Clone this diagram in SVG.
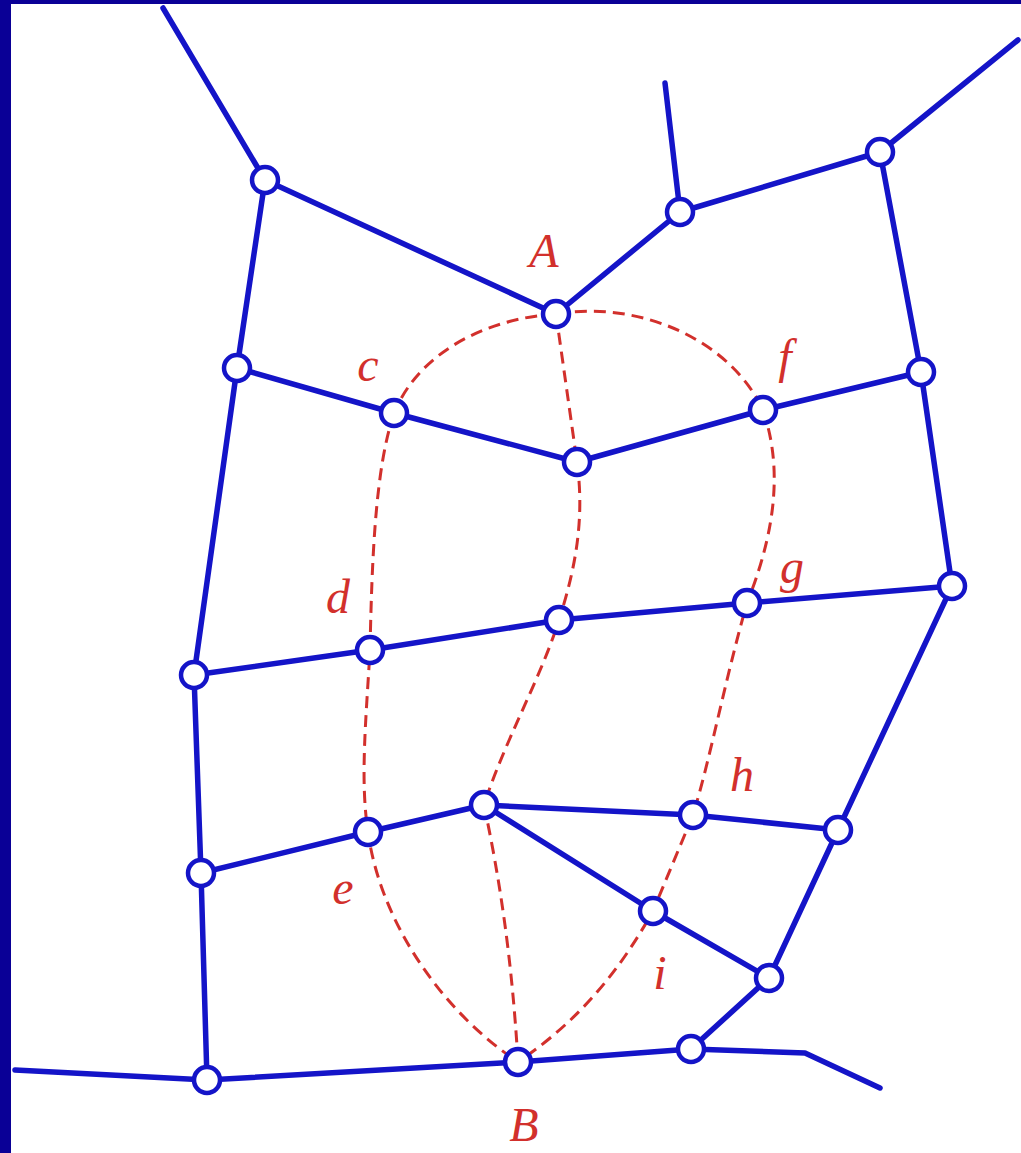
<svg xmlns="http://www.w3.org/2000/svg" width="1021" height="1153" viewBox="0 0 1021 1153">
<style>
.e{stroke:#1414c8;stroke-width:5.5;fill:none;stroke-linecap:round;stroke-linejoin:round}
.r{stroke:#d2302c;stroke-width:3;fill:none;stroke-dasharray:12 7}
.n{fill:#fff;stroke:#1414c8;stroke-width:4.5}
.t{fill:#d2302c;font-family:"Liberation Serif",serif;font-style:italic;font-size:48px;text-anchor:middle}
</style>
<rect x="0" y="0" width="1021" height="1153" fill="#fff"/>
<rect x="0" y="0" width="1021" height="4" fill="#0a0096"/>
<rect x="0" y="0" width="11" height="1153" fill="#0a0096"/>
<g id="dashed">
<path class="r" d="M556,314 C640,300 730,340 763,410"/>
<path class="r" d="M556,314 C490,318 420,350 394,413"/>
<path class="r" d="M394,413 C375,470 372,560 370,650 C366,720 360,780 368,832 C380,920 440,1010 518,1062"/>
<path class="r" d="M556,314 L577,462"/>
<path class="r" d="M577,462 C585,520 575,570 559,620 C540,680 505,740 484,805"/>
<path class="r" d="M484,805 C500,880 512,960 518,1062"/>
<path class="r" d="M763,410 C780,460 780,520 747,603 C725,680 710,760 693,815 L653,911 C620,970 580,1020 518,1062"/>
</g>
<g id="connectors">
<polyline class="e" points="163,8 265,180 556,314 680,212 665,83"/>
<polyline class="e" points="680,212 880,152 1018,40"/>
<polyline class="e" points="265,180 237,368 194,675 201,873 207,1080"/>
<polyline class="e" points="15,1070 207,1080 518,1062 691,1049 805,1053 880,1088"/>
<polyline class="e" points="880,152 921,372 952,586 838,830 769,978 691,1049"/>
<polyline class="e" points="237,368 394,413 577,462 763,410 921,372"/>
<polyline class="e" points="194,675 370,650 559,620 747,603 952,586"/>
<polyline class="e" points="201,873 368,832 484,805 693,815 838,830"/>
<polyline class="e" points="484,805 653,911 769,978"/>
</g>
<g id="nodes">
<circle id="n1" class="n" cx="265" cy="180" r="13"/>
<circle id="n2" class="n" cx="680" cy="212" r="13"/>
<circle id="n3" class="n" cx="880" cy="152" r="13"/>
<circle id="nA" class="n" cx="556" cy="314" r="13"/>
<circle id="n4" class="n" cx="237" cy="368" r="13"/>
<circle id="nc" class="n" cx="394" cy="413" r="13"/>
<circle id="n5" class="n" cx="577" cy="462" r="13"/>
<circle id="nf" class="n" cx="763" cy="410" r="13"/>
<circle id="n6" class="n" cx="921" cy="372" r="13"/>
<circle id="n7" class="n" cx="559" cy="620" r="13"/>
<circle id="ng" class="n" cx="747" cy="603" r="13"/>
<circle id="n8" class="n" cx="952" cy="586" r="13"/>
<circle id="nd" class="n" cx="370" cy="650" r="13"/>
<circle id="n9" class="n" cx="194" cy="675" r="13"/>
<circle id="n10" class="n" cx="484" cy="805" r="13"/>
<circle id="nh" class="n" cx="693" cy="815" r="13"/>
<circle id="n11" class="n" cx="838" cy="830" r="13"/>
<circle id="ne" class="n" cx="368" cy="832" r="13"/>
<circle id="n12" class="n" cx="201" cy="873" r="13"/>
<circle id="ni" class="n" cx="653" cy="911" r="13"/>
<circle id="n13" class="n" cx="769" cy="978" r="13"/>
<circle id="nB" class="n" cx="518" cy="1062" r="13"/>
<circle id="n14" class="n" cx="691" cy="1049" r="13"/>
<circle id="n15" class="n" cx="207" cy="1080" r="13"/>
</g>
<g id="labels">
<text class="t" x="544" y="267">A</text>
<text class="t" x="368" y="381">c</text>
<text class="t" x="785" y="373">f</text>
<text class="t" x="338" y="613">d</text>
<text class="t" x="792" y="583">g</text>
<text class="t" x="742" y="791">h</text>
<text class="t" x="343" y="904">e</text>
<text class="t" x="660" y="989">i</text>
<text class="t" x="524" y="1141">B</text>
</g>
</svg>
